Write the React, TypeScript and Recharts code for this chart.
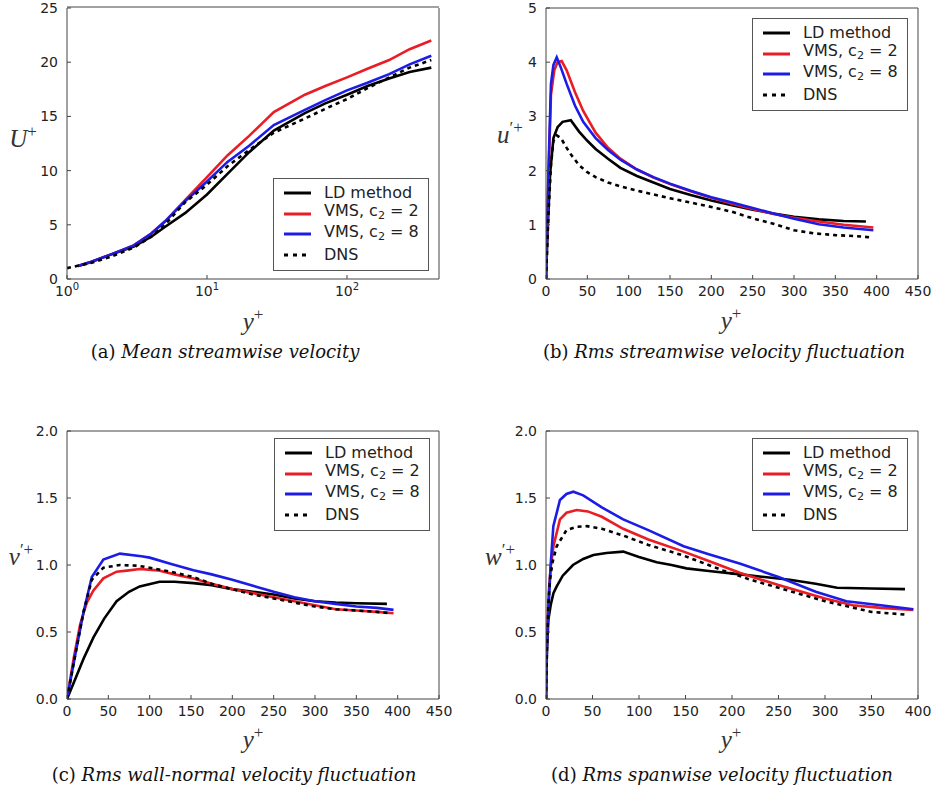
import React from 'react';
import { LineChart, Line, XAxis, YAxis, Legend } from 'recharts';

const FONT = '"DejaVu Sans", sans-serif';
const SERIF = '"Liberation Serif", "DejaVu Serif", serif';
const CAPTION = '"DejaVu Serif", serif';
const AXIS = '#444444';
const TEXT = '#222222';

// (a) mean streamwise velocity, log y+
const aYplus = [1.2, 1.5, 2, 3, 4, 5, 7, 10, 14, 20, 30, 50, 70, 100, 140, 200, 280, 400];
const aLD = [1.2, 1.6, 2.2, 3.0, 3.9, 4.8, 6.1, 7.8, 9.7, 11.7, 13.7, 15.3, 16.2, 17.0, 17.8, 18.5, 19.1, 19.5];
const aVms2 = [1.2, 1.6, 2.2, 3.1, 4.2, 5.3, 7.3, 9.4, 11.4, 13.2, 15.4, 17.0, 17.8, 18.6, 19.4, 20.2, 21.2, 22.0];
const aVms8 = [1.2, 1.6, 2.2, 3.1, 4.2, 5.3, 7.2, 9.0, 10.8, 12.3, 14.2, 15.6, 16.5, 17.4, 18.1, 18.9, 19.8, 20.6];
const aDnsYplus = [1, 1.5, 2, 3, 4, 5, 7, 10, 14, 20, 30, 50, 70, 100, 140, 200, 280, 400];
const aDns = [1.0, 1.5, 2.0, 2.9, 3.9, 5.0, 7.1, 8.7, 10.4, 11.9, 13.5, 14.8, 15.7, 16.6, 17.6, 18.6, 19.5, 20.2];

// (b) rms streamwise fluctuation
const bLDx = [0, 2, 5, 9, 14, 20, 30, 40, 50, 60, 75, 90, 110, 130, 150, 175, 200, 225, 250, 275, 300, 330, 360, 387];
const bLD = [0, 0.9, 1.95, 2.6, 2.8, 2.9, 2.93, 2.72, 2.55, 2.4, 2.22, 2.05, 1.9, 1.78, 1.66, 1.55, 1.45, 1.36, 1.28, 1.21, 1.15, 1.1, 1.07, 1.06];
const bVms2x = [0, 3, 6, 10, 14, 19, 25, 35, 45, 60, 75, 90, 110, 130, 150, 175, 200, 225, 250, 275, 300, 330, 360, 396];
const bVms2 = [0, 1.9, 3.4, 3.85, 4.0, 4.02, 3.85, 3.45, 3.1, 2.7, 2.42, 2.22, 2.02, 1.87, 1.75, 1.62, 1.5, 1.39, 1.29, 1.2, 1.13, 1.06, 1.0, 0.95];
const bVms8x = [0, 3, 6, 9, 13, 18, 25, 35, 45, 60, 75, 90, 110, 130, 150, 175, 200, 225, 250, 275, 300, 330, 360, 396];
const bVms8 = [0, 2.0, 3.6, 3.95, 4.09, 3.9, 3.6, 3.2, 2.9, 2.6, 2.38, 2.2, 2.02, 1.88, 1.76, 1.63, 1.51, 1.41, 1.31, 1.21, 1.11, 1.01, 0.95, 0.9];
const bDnsx = [0, 3, 6, 9, 13, 18, 25, 30, 40, 50, 60, 75, 90, 110, 130, 150, 175, 200, 225, 250, 275, 300, 325, 350, 375, 392];
const bDns = [0, 1.2, 2.1, 2.55, 2.65, 2.6, 2.42, 2.3, 2.1, 1.97, 1.88, 1.78, 1.71, 1.63, 1.56, 1.49, 1.41, 1.33, 1.24, 1.12, 1.02, 0.9, 0.84, 0.81, 0.79, 0.77];

// (c) rms wall-normal fluctuation
const cLDx = [0, 10, 20, 32, 45, 60, 75, 88, 112, 130, 153, 175, 200, 225, 250, 275, 300, 325, 350, 387];
const cLD = [0, 0.15, 0.3, 0.46, 0.6, 0.73, 0.8, 0.84, 0.875, 0.875, 0.865, 0.85, 0.82, 0.8, 0.78, 0.75, 0.73, 0.72, 0.715, 0.71];
const cVms2x = [0, 8, 16, 24, 32, 44, 60, 75, 88, 110, 130, 153, 175, 200, 225, 250, 275, 300, 325, 350, 375, 395];
const cVms2 = [0, 0.3, 0.56, 0.72, 0.81, 0.9, 0.95, 0.96, 0.97, 0.96, 0.93, 0.9, 0.86, 0.82, 0.79, 0.76, 0.73, 0.7, 0.67, 0.66, 0.65, 0.64];
const cVms8x = [0, 10, 20, 30, 44, 64, 90, 100, 125, 153, 175, 200, 233, 250, 275, 300, 325, 350, 375, 395];
const cVms8 = [0, 0.33, 0.65, 0.91, 1.04, 1.085, 1.065, 1.055, 1.01, 0.96, 0.93, 0.89, 0.83, 0.8, 0.76, 0.73, 0.71, 0.69, 0.68, 0.665];
const cDnsx = [0, 10, 20, 30, 44, 64, 85, 100, 125, 153, 175, 200, 225, 250, 275, 300, 325, 350, 375, 392];
const cDns = [0, 0.33, 0.65, 0.89, 0.98, 1.0, 0.995, 0.98, 0.95, 0.91, 0.86, 0.82, 0.78, 0.75, 0.72, 0.69, 0.67, 0.66, 0.65, 0.64];

// (d) rms spanwise fluctuation
const dLDx = [0, 1, 2.5, 5, 8, 11.5, 18, 29, 40, 51, 65, 83, 100, 119, 135, 151, 175, 209, 235, 262, 290, 313, 350, 386];
const dLD = [0, 0.35, 0.59, 0.7, 0.79, 0.84, 0.92, 1.0, 1.045, 1.075, 1.09, 1.1, 1.06, 1.02, 1.0, 0.975, 0.955, 0.93, 0.91, 0.89, 0.86, 0.83, 0.825, 0.82];
const dVms2x = [0, 1, 3, 5, 8, 15, 22, 33, 45, 60, 83, 110, 148, 175, 209, 250, 300, 330, 360, 395];
const dVms2 = [0, 0.45, 0.8, 0.98, 1.14, 1.34, 1.39, 1.41, 1.4, 1.36, 1.27, 1.19, 1.1, 1.03, 0.94, 0.85, 0.75, 0.7, 0.68, 0.665];
const dVms8x = [0, 1, 2.5, 5, 7.9, 15, 22, 29.4, 40, 60, 83, 110, 148, 175, 209, 250, 290, 323, 360, 395];
const dVms8 = [0, 0.4, 0.64, 1.0, 1.29, 1.485, 1.53, 1.547, 1.52, 1.43, 1.34, 1.26, 1.14, 1.08, 1.01, 0.91, 0.8, 0.73, 0.7, 0.67];
const dDnsx = [0, 1, 2.5, 4.3, 7, 11.5, 22, 33, 44, 60, 83, 110, 148, 190, 220, 250, 300, 350, 386];
const dDns = [0, 0.4, 0.7, 0.89, 1.02, 1.14, 1.26, 1.285, 1.29, 1.27, 1.22, 1.15, 1.07, 0.96, 0.89, 0.83, 0.73, 0.65, 0.63];

const linTicks = [0, 50, 100, 150, 200, 250, 300, 350, 400, 450];
const logTicks = [1, 10, 100];
const logMinor = [2, 3, 4, 5, 6, 7, 8, 9, 20, 30, 40, 50, 60, 70, 80, 90, 200, 300, 400];

type Pt = { x: number; y: number };
const zip = (xs: number[], ys: number[]): Pt[] => xs.map((x, i) => ({ x, y: ys[i] }));

const SERIES = [
  { label: <>LD method</>, color: '#000000', dash: undefined as string | undefined },
  { label: <>VMS, c<sub style={{ fontSize: '0.7em', verticalAlign: '-0.25em' }}>2</sub> = 2</>, color: '#ea1c24', dash: undefined },
  { label: <>VMS, c<sub style={{ fontSize: '0.7em', verticalAlign: '-0.25em' }}>2</sub> = 8</>, color: '#1c1ce6', dash: undefined },
  { label: <>DNS</>, color: '#000000', dash: '4 4' },
];

const LegendBox = () => (
  <div
    style={{
      width: 156,
      height: 93,
      boxSizing: 'border-box',
      border: '1px solid #555',
      background: '#fff',
      fontFamily: FONT,
      fontSize: 16,
      color: TEXT,
      position: 'relative',
    }}
  >
    {SERIES.map((s, i) => (
      <div
        key={i}
        style={{ position: 'absolute', left: 10, top: 4 + i * 20.5, height: 20, display: 'flex', alignItems: 'center', whiteSpace: 'nowrap' }}
      >
        <svg width={27} height={6}>
          <line x1={0} y1={3} x2={27} y2={3} stroke={s.color} strokeWidth={3} strokeDasharray={s.dash ? '4 5' : undefined} />
        </svg>
        <span style={{ marginLeft: 13, lineHeight: '20px' }}>{s.label}</span>
      </div>
    ))}
  </div>
);

const LogTick = (props: any) => {
  const { x, y, payload } = props;
  const exp = Math.round(Math.log10(payload.value));
  return (
    <text x={x} y={y} dy="0.71em" textAnchor="middle" fontFamily={FONT} fontSize={14} fill={TEXT}>
      10
      <tspan dy={-6} fontSize={10}>
        {exp}
      </tspan>
    </text>
  );
};

type Spec = {
  left: number;
  top: number;
  plot: [number, number, number, number];
  log?: boolean;
  xDomain: [number, number];
  xTicks: number[];
  yDomain: [number, number];
  yTicks: number[];
  yDigits: number;
  series: Pt[][];
  legend: [number, number];
};

const W = 461;
const H = 330;
const blank = () => '';

const Panel = ({ spec }: { spec: Spec }) => {
  const { left, top, plot, log, xDomain, xTicks, yDomain, yTicks, yDigits, series, legend } = spec;
  // every axis is 1px thick; the log panel stacks a minor-tick axis on top and bottom
  const stack = log ? 2 : 1;
  const margin = {
    left: plot[0] - left - 1,
    top: plot[1] - top - stack,
    right: left + W - plot[2] - 1,
    bottom: top + H - plot[3] - stack,
  };
  const scale = log ? 'log' : 'linear';
  const tickStyle = { fontFamily: FONT, fontSize: 14, fill: TEXT };
  return (
    <div style={{ position: 'absolute', left, top }}>
      <LineChart width={W} height={H} margin={margin}>
        <XAxis
          dataKey="x"
          type="number"
          scale={scale}
          domain={xDomain}
          ticks={xTicks}
          interval={0}
          allowDataOverflow
          height={1}
          tickSize={-4}
          tickMargin={11}
          stroke={AXIS}
          tick={log ? <LogTick /> : tickStyle}
        />
        <XAxis xAxisId="top" orientation="top" type="number" scale={scale} domain={xDomain} ticks={xTicks} interval={0} height={1} tickSize={-4} stroke={AXIS} tickFormatter={blank} />
        {log && (
          <XAxis xAxisId="minor" type="number" scale={scale} domain={xDomain} ticks={logMinor} interval={0} height={1} tickSize={-2} axisLine={false} stroke={AXIS} tickFormatter={blank} />
        )}
        {log && (
          <XAxis xAxisId="minorTop" orientation="top" type="number" scale={scale} domain={xDomain} ticks={logMinor} interval={0} height={1} tickSize={-2} axisLine={false} stroke={AXIS} tickFormatter={blank} />
        )}
        <YAxis
          type="number"
          domain={yDomain}
          ticks={yTicks}
          interval={0}
          width={1}
          tickSize={-4}
          tickMargin={13}
          stroke={AXIS}
          tick={tickStyle}
          tickFormatter={(v: number) => v.toFixed(yDigits)}
        />
        <YAxis yAxisId="right" orientation="right" type="number" domain={yDomain} ticks={yTicks} interval={0} width={1} tickSize={-4} stroke={AXIS} tickFormatter={blank} />
        {series.map((pts, i) => (
          <Line
            key={i}
            data={pts}
            dataKey="y"
            type="linear"
            stroke={SERIES[i].color}
            strokeWidth={2.6}
            strokeDasharray={SERIES[i].dash}
            dot={false}
            activeDot={false}
            isAnimationActive={false}
          />
        ))}
        <Legend
          layout="vertical"
          align="center"
          verticalAlign="middle"
          content={() => <LegendBox />}
          wrapperStyle={{ left: legend[0] - left, top: legend[1] - top, width: 156, height: 93 }}
        />
      </LineChart>
    </div>
  );
};

const specs: Spec[] = [
  {
    left: 0,
    top: 0,
    plot: [67, 8, 439, 279],
    log: true,
    xDomain: [1, 454],
    xTicks: logTicks,
    yDomain: [0, 25],
    yTicks: [0, 5, 10, 15, 20, 25],
    yDigits: 0,
    series: [zip(aYplus, aLD), zip(aYplus, aVms2), zip(aYplus, aVms8), zip(aDnsYplus, aDns)],
    legend: [273, 178],
  },
  {
    left: 470,
    top: 0,
    plot: [546, 8, 918, 279],
    xDomain: [0, 450],
    xTicks: linTicks,
    yDomain: [0, 5],
    yTicks: [0, 1, 2, 3, 4, 5],
    yDigits: 0,
    series: [zip(bLDx, bLD), zip(bVms2x, bVms2), zip(bVms8x, bVms8), zip(bDnsx, bDns)],
    legend: [752, 18],
  },
  {
    left: 0,
    top: 400,
    plot: [67, 431, 439, 699],
    xDomain: [0, 450],
    xTicks: linTicks,
    yDomain: [0, 2],
    yTicks: [0, 0.5, 1, 1.5, 2],
    yDigits: 1,
    series: [zip(cLDx, cLD), zip(cVms2x, cVms2), zip(cVms8x, cVms8), zip(cDnsx, cDns)],
    legend: [274, 438],
  },
  {
    left: 470,
    top: 400,
    plot: [546, 431, 918, 699],
    xDomain: [0, 400],
    xTicks: [0, 50, 100, 150, 200, 250, 300, 350, 400],
    yDomain: [0, 2],
    yTicks: [0, 0.5, 1, 1.5, 2],
    yDigits: 1,
    series: [zip(dLDx, dLD), zip(dVms2x, dVms2), zip(dVms8x, dVms8), zip(dDnsx, dDns)],
    legend: [752, 438],
  },
];

const sup = (s: string) => <span style={{ fontSize: '0.68em', verticalAlign: '0.55em', fontStyle: 'normal' }}>{s}</span>;

const axisLabels = [
  { x: 23, y: 137, node: <>U{sup('+')}</> },
  { x: 510, y: 133, node: <>u{sup('′+')}</> },
  { x: 21, y: 555, node: <>v{sup('′+')}</> },
  { x: 500, y: 555, node: <>w{sup('′+')}</> },
  { x: 253, y: 320, node: <>y{sup('+')}</> },
  { x: 731, y: 319, node: <>y{sup('+')}</> },
  { x: 253, y: 738, node: <>y{sup('+')}</> },
  { x: 731, y: 738, node: <>y{sup('+')}</> },
];

const captions = [
  { x: 225, y: 352, tag: '(a)', text: 'Mean streamwise velocity' },
  { x: 724, y: 352, tag: '(b)', text: 'Rms streamwise velocity fluctuation' },
  { x: 234, y: 775, tag: '(c)', text: 'Rms wall-normal velocity fluctuation' },
  { x: 722, y: 775, tag: '(d)', text: 'Rms spanwise velocity fluctuation' },
];

export default function App() {
  return (
    <div style={{ position: 'absolute', left: 0, top: 0, width: 931, height: 799, background: '#fff', overflow: 'hidden' }}>
      {specs.map((s, i) => (
        <Panel key={i} spec={s} />
      ))}
      {axisLabels.map((l, i) => (
        <div
          key={i}
          style={{
            position: 'absolute',
            left: l.x,
            top: l.y,
            transform: 'translate(-50%, -50%)',
            fontFamily: SERIF,
            fontStyle: 'italic',
            fontSize: 25,
            color: '#333',
            whiteSpace: 'nowrap',
            lineHeight: 1,
          }}
        >
          {l.node}
        </div>
      ))}
      {captions.map((c, i) => (
        <div
          key={i}
          style={{
            position: 'absolute',
            left: c.x,
            top: c.y,
            transform: 'translate(-50%, -50%)',
            fontFamily: CAPTION,
            fontSize: 18,
            color: '#111',
            whiteSpace: 'nowrap',
            lineHeight: 1,
          }}
        >
          {c.tag} <i>{c.text}</i>
        </div>
      ))}
    </div>
  );
}
